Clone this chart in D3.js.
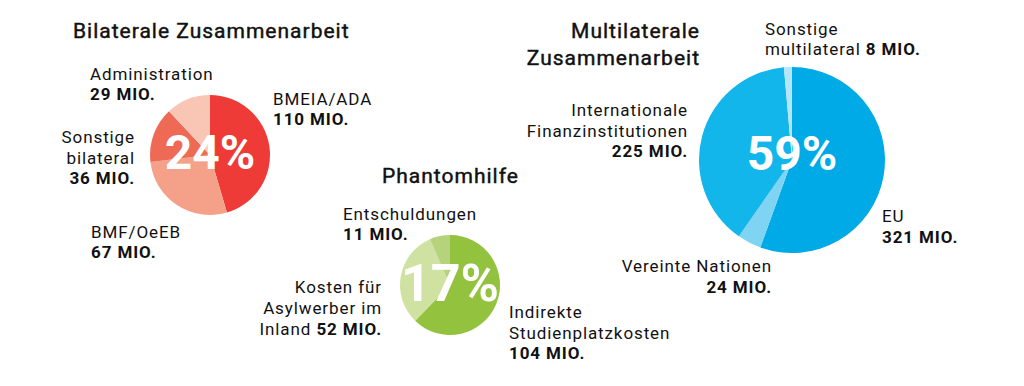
<!DOCTYPE html>
<html>
<head>
<meta charset="utf-8">
<script src="https://cdn.jsdelivr.net/npm/d3@7"></script>
<style>
  html, body { margin: 0; padding: 0; background: #fff; }
  svg { display: block; }
  text { font-family: Roboto, "Noto Sans", sans-serif; fill: #111; }
</style>
</head>
<body>
<div id="chart"></div>
<script>
// ---------- DATA ----------
const groupTitles = ["Bilaterale Zusammenarbeit", "Phantomhilfe", "Multilaterale Zusammenarbeit"];
const groupShares = [24, 17, 59];

const bilateralCategories = ["BMEIA/ADA", "BMF/OeEB", "Sonstige bilateral", "Administration"];
const bilateralValues = [110, 67, 36, 29];

const phantomCategories = ["Indirekte Studienplatzkosten", "Kosten für Asylwerber im Inland", "Entschuldungen"];
const phantomValues = [104, 52, 11];

const multilateralCategories = ["EU", "Vereinte Nationen", "Internationale Finanzinstitutionen", "Sonstige multilateral"];
const multilateralValues = [321, 24, 225, 8];

const unitLabel = "MIO.";

// ---------- LAYOUT / STYLE ----------
const W = 1024, H = 386;
const svg = d3.select("#chart").append("svg").attr("width", W).attr("height", H);

const pies = [
  { cx: 210, cy: 155, r: 60, cats: bilateralCategories, vals: bilateralValues,
    colors: ["#ee3b37", "#f5a18a", "#ef6a55", "#f9c6b6"], share: groupShares[0],
    pctY: 152, pctSize: 48 },
  { cx: 450, cy: 285, r: 50, cats: phantomCategories, vals: phantomValues,
    colors: ["#93c23f", "#d0e2a2", "#b4d37a"], share: groupShares[1],
    pctY: 283, pctSize: 52 },
  { cx: 792, cy: 160, r: 93, cats: multilateralCategories, vals: multilateralValues,
    colors: ["#00aae6", "#7fd3f3", "#12b6eb", "#b5e6f8"], share: groupShares[2],
    pctY: 153, pctSize: 48 }
];

pies.forEach(p => {
  const pie = d3.pie().sort(null).value(d => d)(p.vals);
  const arc = d3.arc().innerRadius(0).outerRadius(p.r);
  const color = d3.scaleOrdinal().domain(d3.range(p.vals.length)).range(p.colors);
  const g = svg.append("g").attr("transform", `translate(${p.cx},${p.cy})`);
  g.selectAll("path").data(pie).join("path")
    .attr("d", arc)
    .attr("fill", (d, i) => color(i));
  svg.append("text")
    .attr("x", p.cx).attr("y", p.pctY)
    .attr("text-anchor", "middle")
    .attr("dominant-baseline", "central")
    .style("font-size", p.pctSize + "px")
    .style("font-weight", "700")
    .style("fill", "#fff")
    .text(p.share + "%");
});

// Titles
function titleLines(x, y, anchor, lines) {
  const t = svg.append("text").attr("x", x).attr("y", y).attr("text-anchor", anchor)
    .style("font-size", "21px").style("font-weight", "400").style("letter-spacing", "1px")
    .style("stroke", "#111").style("stroke-width", "0.45px");
  lines.forEach((ln, i) => t.append("tspan").attr("x", x).attr("dy", i ? 27 : 0).text(ln));
}
titleLines(73, 38, "start", [groupTitles[0]]);
titleLines(382, 183, "start", [groupTitles[1]]);
titleLines(700, 38, "end", groupTitles[2].split(" "));

// Category labels: lines of [regular text, bold value text]
function fmt(v) { return v + " " + unitLabel; }
function label(x, y, anchor, lines, lh) {
  const t = svg.append("text").attr("x", x).attr("y", y).attr("text-anchor", anchor)
    .style("font-size", "17px").style("letter-spacing", "0.9px");
  lines.forEach((ln, i) => {
    const first = t.append("tspan").attr("x", x).attr("dy", i ? lh : 0);
    if (ln[0]) first.text(ln[0] + (ln[1] ? " " : ""));
    if (ln[1]) {
      if (ln[0]) t.append("tspan").style("font-weight", "700").text(ln[1]);
      else first.style("font-weight", "700").text(ln[1]);
    }
  });
}

// Bilateral
label(273, 105, "start", [[bilateralCategories[0]], [null, fmt(bilateralValues[0])]], 20);
label(91, 238, "start", [[bilateralCategories[1]], [null, fmt(bilateralValues[1])]], 20);
label(135, 143, "end", [["Sonstige"], ["bilateral"], [null, fmt(bilateralValues[2])]], 20.5);
label(90, 80, "start", [[bilateralCategories[3]], [null, fmt(bilateralValues[3])]], 20);

// Phantomhilfe
label(509, 318, "start", [["Indirekte"], ["Studienplatzkosten"], [null, fmt(phantomValues[0])]], 20.5);
label(382, 293, "end", [["Kosten für"], ["Asylwerber im"], ["Inland", fmt(phantomValues[1])]], 21);
label(343, 220, "start", [[phantomCategories[2]], [null, fmt(phantomValues[2])]], 20);

// Multilateral
label(882, 222, "start", [[multilateralCategories[0]], [null, fmt(multilateralValues[0])]], 21);
label(772, 272, "end", [[multilateralCategories[1]], [null, fmt(multilateralValues[1])]], 21);
label(688, 116, "end", [["Internationale"], ["Finanzinstitutionen"], [null, fmt(multilateralValues[2])]], 20.5);
label(765, 35, "start", [["Sonstige"], ["multilateral", fmt(multilateralValues[3])]], 20);
</script>
</body>
</html>
